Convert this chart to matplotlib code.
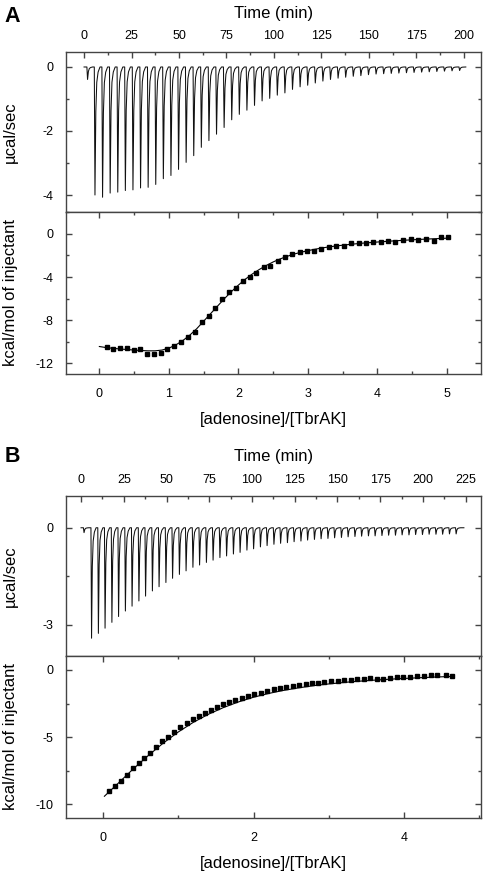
import numpy as np
import matplotlib.pyplot as plt
from matplotlib.ticker import MultipleLocator

plt.rcParams['font.family'] = ['Liberation Sans', 'DejaVu Sans']
plt.rcParams['axes.unicode_minus'] = False

# ---- panel A data ----
a_trace_start, a_trace_end = 0.0, 201.0
a_pre_time, a_pre_peak = 1.5, -0.39
a_inj_time = [5.4, 9.4, 13.4, 17.4, 21.4, 25.4, 29.4, 33.4, 37.4, 41.4,
              45.4, 49.4, 53.4, 57.4, 61.4, 65.4, 69.4, 73.4, 77.4, 81.4,
              85.4, 89.4, 93.4, 97.4, 101.4, 105.4, 109.4, 113.4, 117.4, 121.4,
              125.4, 129.4, 133.4, 137.4, 141.4, 145.4, 149.4, 153.4, 157.4, 161.4,
              165.4, 169.4, 173.4, 177.4, 181.4, 185.4, 189.4, 193.4, 197.4]
a_inj_peak = [-4.00, -4.07, -3.94, -3.91, -3.86, -3.84, -3.78, -3.76, -3.67, -3.49,
              -3.39, -3.20, -2.98, -2.77, -2.51, -2.30, -2.10, -1.89, -1.65, -1.48,
              -1.35, -1.20, -1.06, -0.98, -0.88, -0.81, -0.70, -0.62, -0.57, -0.50,
              -0.44, -0.39, -0.35, -0.32, -0.29, -0.27, -0.24, -0.22, -0.21, -0.20,
              -0.19, -0.18, -0.17, -0.16, -0.15, -0.14, -0.13, -0.12, -0.11]

a_ratio = [0.11, 0.20, 0.30, 0.40, 0.50, 0.59, 0.68, 0.78, 0.88, 0.97,
           1.08, 1.18, 1.27, 1.37, 1.47, 1.57, 1.67, 1.76, 1.86, 1.96,
           2.06, 2.16, 2.26, 2.37, 2.46, 2.57, 2.67, 2.77, 2.88, 2.98,
           3.09, 3.19, 3.30, 3.41, 3.52, 3.62, 3.73, 3.83, 3.94, 4.05,
           4.15, 4.26, 4.37, 4.48, 4.59, 4.70, 4.81, 4.91, 5.02]
a_heat = [-10.46, -10.68, -10.62, -10.56, -10.77, -10.71, -11.15, -11.15, -11.02, -10.68,
          -10.37, -10.06, -9.60, -9.07, -8.14, -7.62, -6.84, -6.07, -5.36, -5.02,
          -4.40, -4.02, -3.59, -3.10, -2.94, -2.51, -2.11, -1.86, -1.64, -1.55,
          -1.55, -1.42, -1.18, -1.08, -1.08, -0.87, -0.87, -0.87, -0.77, -0.77,
          -0.62, -0.77, -0.53, -0.46, -0.53, -0.46, -0.62, -0.31, -0.31]
a_fit_x = [0.0, 0.1, 0.2, 0.3, 0.4, 0.5, 0.6, 0.7, 0.8, 0.9, 1.0, 1.1, 1.2, 1.3,
           1.4, 1.5, 1.6, 1.7, 1.8, 1.9, 2.0, 2.1, 2.2, 2.3, 2.4, 2.5, 2.6, 2.7,
           2.8, 2.9, 3.0, 3.2, 3.4, 3.6, 3.8, 4.0, 4.2, 4.4, 4.6, 4.8, 5.05]
a_fit_y = [-10.45, -10.55, -10.62, -10.68, -10.73, -10.78, -10.82, -10.85, -10.85, -10.78,
           -10.60, -10.30, -9.90, -9.40, -8.80, -8.10, -7.40, -6.70, -6.00, -5.35,
           -4.75, -4.20, -3.72, -3.30, -2.93, -2.60, -2.32, -2.08, -1.87, -1.70,
           -1.55, -1.30, -1.12, -0.97, -0.85, -0.75, -0.66, -0.58, -0.51, -0.45, -0.38]

# ---- panel B data ----
b_trace_start, b_trace_end = 0.0, 224.0
b_pre_time, b_pre_peak = 1.4, -0.15
b_inj_time = [5.8, 9.8, 13.7, 17.7, 21.6, 25.6, 29.5, 33.5, 37.4, 41.4,
              45.3, 49.3, 53.2, 57.2, 61.1, 65.1, 69.0, 73.0, 76.9, 80.9,
              84.8, 88.8, 92.7, 96.7, 100.6, 104.6, 108.5, 112.5, 116.4, 120.4,
              124.3, 128.3, 132.2, 136.2, 140.1, 144.1, 148.0, 152.0, 155.9, 159.9,
              163.8, 167.8, 171.7, 175.7, 179.6, 183.6, 187.5, 191.5, 195.4, 199.4,
              203.3, 207.3, 211.2, 215.2, 219.1]
b_inj_peak = [-3.41, -3.26, -3.10, -2.92, -2.74, -2.57, -2.42, -2.26, -2.11, -1.95,
              -1.82, -1.69, -1.56, -1.44, -1.33, -1.22, -1.15, -1.07, -1.00, -0.92,
              -0.87, -0.81, -0.76, -0.69, -0.65, -0.59, -0.55, -0.51, -0.48, -0.46,
              -0.43, -0.41, -0.38, -0.36, -0.34, -0.33, -0.31, -0.30, -0.28, -0.27,
              -0.26, -0.25, -0.25, -0.24, -0.23, -0.23, -0.22, -0.22, -0.21, -0.21,
              -0.20, -0.20, -0.20, -0.19, -0.19]

b_ratio = [0.08, 0.16, 0.24, 0.32, 0.40, 0.48, 0.55, 0.63, 0.71, 0.79,
           0.87, 0.95, 1.03, 1.11, 1.19, 1.27, 1.35, 1.43, 1.52, 1.60,
           1.68, 1.76, 1.85, 1.93, 2.01, 2.10, 2.18, 2.27, 2.35, 2.43,
           2.52, 2.60, 2.69, 2.77, 2.86, 2.94, 3.03, 3.12, 3.20, 3.29,
           3.37, 3.46, 3.55, 3.64, 3.72, 3.81, 3.90, 3.99, 4.08, 4.17,
           4.26, 4.35, 4.43, 4.55, 4.63]
b_heat = [-8.98, -8.61, -8.24, -7.82, -7.32, -6.90, -6.55, -6.15, -5.76, -5.31,
          -4.96, -4.59, -4.27, -3.95, -3.67, -3.42, -3.18, -2.98, -2.75, -2.56,
          -2.41, -2.23, -2.08, -1.94, -1.76, -1.69, -1.54, -1.44, -1.36, -1.27,
          -1.19, -1.12, -1.02, -0.99, -0.94, -0.89, -0.84, -0.82, -0.77, -0.74,
          -0.69, -0.69, -0.62, -0.65, -0.67, -0.57, -0.55, -0.52, -0.50, -0.45,
          -0.42, -0.40, -0.37, -0.35, -0.42]
b_fit_x = [0.02, 0.2, 0.4, 0.6, 0.8, 1.0, 1.2, 1.4, 1.6, 1.8, 2.0, 2.2, 2.4,
           2.6, 2.8, 3.0, 3.3, 3.6, 3.9, 4.2, 4.5, 4.65]
b_fit_y = [-9.40, -8.45, -7.38, -6.38, -5.45, -4.62, -3.90, -3.30, -2.80, -2.38,
           -2.03, -1.75, -1.52, -1.33, -1.17, -1.04, -0.88, -0.76, -0.66, -0.58,
           -0.51, -0.48]

# spike shape of one injection (minutes after injection, fraction of peak)
spike_dt = [0.0, 0.35, 0.8, 1.3, 2.0, 3.0]
spike_frac = [0.0, 1.0, 0.35, 0.12, 0.04, 0.0]


def build_trace(start, end, times, peaks):
    tt, yy = [start], [0.0]
    for t0, p in zip(times, peaks):
        tt += [t0 + d for d in spike_dt]
        yy += [p * f for f in spike_frac]
    tt.append(end)
    yy.append(0.0)
    return tt, yy


EDGE = '#444444'
fig = plt.figure(figsize=(4.86, 8.73), dpi=100)


def style(ax, top):
    for s in ax.spines.values():
        s.set_color(EDGE)
        s.set_linewidth(1.0)
    ax.tick_params(which='both', direction='in', colors=EDGE, labelcolor='black',
                   labelsize=9, left=True, right=True, width=1.0)
    ax.tick_params(which='major', length=4.5)
    ax.tick_params(which='minor', length=2.5)
    ax.tick_params(axis='y', which='both', pad=9)
    if top:
        ax.tick_params(axis='x', which='both', top=True, bottom=False,
                       labeltop=True, labelbottom=False)
        ax.tick_params(axis='x', which='major', pad=7)
        ax.xaxis.set_label_position('top')
    else:
        ax.tick_params(axis='x', which='both', top=True, bottom=True)
        ax.tick_params(axis='x', which='major', pad=10)


def panel(y_raw, y_fit, tr, itc, lims, locs, letter, letter_y):
    ax1 = fig.add_axes([0.1358, y_raw, 0.8539, 0.1833])
    ax2 = fig.add_axes([0.1358, y_fit, 0.8539, 0.1856])
    t, y = build_trace(*tr)
    ax1.plot(t, y, color='#111111', lw=0.75)
    ax1.set_xlim(lims[0])
    ax1.set_ylim(lims[1])
    ax1.xaxis.set_major_locator(MultipleLocator(25))
    ax1.xaxis.set_minor_locator(MultipleLocator(12.5))
    ax1.yaxis.set_major_locator(MultipleLocator(locs[0]))
    ax1.yaxis.set_minor_locator(MultipleLocator(locs[0] / 2))
    style(ax1, True)
    ax1.set_xlabel('Time (min)', fontsize=12, labelpad=9)
    ax1.set_ylabel('µcal/sec', fontsize=12)
    ax1.yaxis.set_label_coords(-0.115, 0.5)

    ratio, heat, fx, fy = itc
    ax2.plot(fx, fy, color='black', lw=0.8)
    ax2.plot(ratio, heat, 's', color='black', ms=3.4)
    ax2.set_xlim(lims[2])
    ax2.set_ylim(lims[3])
    ax2.xaxis.set_major_locator(MultipleLocator(locs[1]))
    ax2.xaxis.set_minor_locator(MultipleLocator(locs[1] / 2))
    ax2.yaxis.set_major_locator(MultipleLocator(locs[2]))
    ax2.yaxis.set_minor_locator(MultipleLocator(locs[2] / 2))
    style(ax2, False)
    ax2.set_xlabel('[adenosine]/[TbrAK]', fontsize=12, labelpad=9)
    ax2.set_ylabel('kcal/mol of injectant', fontsize=12)
    ax2.yaxis.set_label_coords(-0.115, 0.5)

    fig.text(0.010, letter_y, letter, fontsize=15.5, fontweight='bold',
             va='center', ha='left')
    return ax1, ax2


# A
panel(0.7572, 0.5716,
      (a_trace_start, a_trace_end, [a_pre_time] + a_inj_time, [a_pre_peak] + a_inj_peak),
      (a_ratio, a_heat, a_fit_x, a_fit_y),
      [(-9.5, 209), (-4.53, 0.47), (-0.48, 5.49), (-13.0, 2.04)],
      [2, 1, 4], 'A', 1 - 17 / 873)

# B
panel(0.2489, 0.0633,
      (b_trace_start, b_trace_end, [b_pre_time] + b_inj_time, [b_pre_peak] + b_inj_peak),
      (b_ratio, b_heat, b_fit_x, b_fit_y),
      [(-8.8, 234), (-3.95, 0.99), (-0.49, 5.02), (-11.0, 1.06)],
      [3, 2, 5], 'B', 1 - 457 / 873)

fig.savefig('out.png', dpi=100)
